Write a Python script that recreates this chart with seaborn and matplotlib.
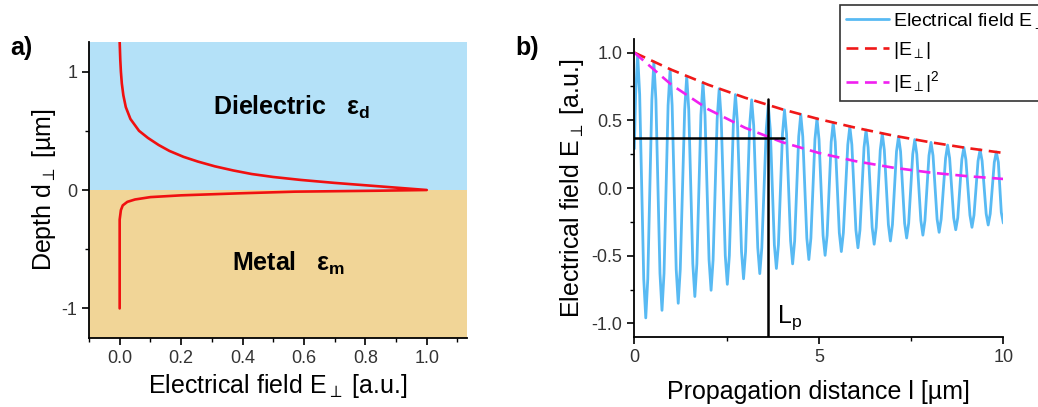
import numpy as np
import pandas as pd
import matplotlib
matplotlib.use("Agg")
import matplotlib.pyplot as plt
import seaborn as sns
from matplotlib.ticker import MultipleLocator, FormatStrFormatter

# panel a: field profile across the interface
depth_diel = [1.25, 1.1, 1.0, 0.9, 0.8, 0.7, 0.6, 0.5, 0.44, 0.38, 0.33, 0.28, 0.24,
              0.2, 0.165, 0.135, 0.11, 0.085, 0.06, 0.04, 0.02, 0.0]
field_diel = [0.0, 0.002, 0.004, 0.007, 0.012, 0.02, 0.035, 0.063, 0.092, 0.127, 0.162, 0.208, 0.255,
              0.31, 0.37, 0.43, 0.5, 0.59, 0.7, 0.8, 0.9, 1.0]
depth_metal = [-0.006, -0.014, -0.028, -0.045, -0.06, -0.08, -0.1, -0.13, -0.17, -0.25, -1.0]
field_metal = [0.84, 0.57, 0.39, 0.2, 0.1, 0.05, 0.025, 0.01, 0.004, 0.0, 0.0]

# panel b: oscillating field, extremes and shoulders
start_x, start_y = 0.0, 0.29
shoulder_dx = 0.055
peak_x = [0.09, 0.53, 0.97, 1.42, 1.86, 2.30, 2.74, 3.18, 3.63, 4.07, 4.51, 4.95,
          5.39, 5.84, 6.28, 6.72, 7.16, 7.60, 8.04, 8.49, 8.93, 9.37, 9.81]
peak_y = [0.988, 0.931, 0.877, 0.825, 0.778, 0.733, 0.690, 0.651, 0.612, 0.577, 0.544, 0.512,
          0.483, 0.454, 0.428, 0.403, 0.380, 0.358, 0.337, 0.317, 0.299, 0.282, 0.266]
peak_sh_y = [0.69, 0.65, 0.61, 0.58, 0.54, 0.51, 0.48, 0.46, 0.43, 0.40, 0.38, 0.36,
             0.34, 0.32, 0.30, 0.28, 0.27, 0.25, 0.24, 0.22, 0.21, 0.20, 0.19]
trough_x = [0.31, 0.75, 1.19, 1.64, 2.08, 2.52, 2.96, 3.40, 3.85, 4.29, 4.73, 5.17,
            5.61, 6.06, 6.50, 6.94, 7.38, 7.82, 8.26, 8.71, 9.15, 9.59, 10.0]
trough_y = [-0.959, -0.903, -0.851, -0.801, -0.755, -0.711, -0.670, -0.632, -0.594, -0.560, -0.528, -0.497,
            -0.469, -0.441, -0.415, -0.391, -0.369, -0.348, -0.327, -0.308, -0.290, -0.273, -0.259]
trough_sh_y = [-0.67, -0.63, -0.60, -0.56, -0.53, -0.50, -0.47, -0.44, -0.42, -0.39, -0.37, -0.35,
               -0.33, -0.31, -0.29, -0.27, -0.26, -0.24, -0.23, -0.22, -0.20, -0.19, -0.18]

env_x = [0, 1, 2, 3, 4, 5, 6, 7, 8, 9, 10]
env_abs = [1.0, 0.874, 0.763, 0.667, 0.582, 0.509, 0.445, 0.388, 0.339, 0.296, 0.259]
env_sq = [1.0, 0.764, 0.582, 0.445, 0.339, 0.259, 0.198, 0.151, 0.115, 0.088, 0.067]

lp = 3.63       # propagation length
e_inv = 0.37    # 1/e level

sns.set_theme(style="ticks")
plt.rcParams["font.family"] = ["Liberation Sans", "DejaVu Sans"]
plt.rcParams["mathtext.fontset"] = "custom"
plt.rcParams["mathtext.rm"] = "Liberation Sans"
plt.rcParams["mathtext.it"] = "Liberation Sans"
plt.rcParams["mathtext.bf"] = "Liberation Sans:bold"
plt.rcParams["axes.unicode_minus"] = False
plt.rcParams["text.color"] = "black"
plt.rcParams["axes.labelcolor"] = "black"

profile = pd.DataFrame({
    "field": field_diel + field_metal,
    "depth": depth_diel + depth_metal,
})

wave_x, wave_y = [start_x], [start_y]
for px, py, psh, tx, ty, tsh in zip(peak_x, peak_y, peak_sh_y, trough_x, trough_y, trough_sh_y):
    wave_x += [px - shoulder_dx, px, px + shoulder_dx, tx - shoulder_dx, tx]
    wave_y += [psh, py, psh, tsh, ty]
    if tx < 10:
        wave_x.append(tx + shoulder_dx)
        wave_y.append(tsh)
wave = pd.DataFrame({"x": wave_x, "y": wave_y})
env = pd.DataFrame({"x": env_x, "abs": env_abs, "sq": env_sq})

fig = plt.figure(figsize=(10.38, 4.07), dpi=100)
ax1 = fig.add_axes([0.0857, 0.1695, 0.3639, 0.7273])
ax2 = fig.add_axes([0.6111, 0.172, 0.3555, 0.732])

tick_col = "#333333"
for ax in (ax1, ax2):
    for s in ("top", "right"):
        ax.spines[s].set_visible(False)
    for s in ("left", "bottom"):
        ax.spines[s].set_color("black")
        ax.spines[s].set_linewidth(1.3)
    ax.tick_params(which="major", direction="out", length=5, width=1.2,
                   labelsize=13, labelcolor=tick_col, color="black")
    ax.tick_params(which="minor", direction="out", length=3, width=1.0, color="black")

# ---- panel a
ax1.axhspan(0, 1.25, color="#b4e1f8", lw=0, zorder=0)
ax1.axhspan(-1.25, 0, color="#f1d597", lw=0, zorder=0)
sns.lineplot(data=profile, x="field", y="depth", sort=False, estimator=None,
             color="#f01010", linewidth=1.9, ax=ax1)
ax1.set_xlim(-0.1, 1.13)
ax1.set_ylim(-1.25, 1.25)
ax1.xaxis.set_major_locator(MultipleLocator(0.2))
ax1.xaxis.set_minor_locator(MultipleLocator(0.1))
ax1.yaxis.set_major_locator(MultipleLocator(1))
ax1.yaxis.set_minor_locator(MultipleLocator(0.5))
ax1.xaxis.set_major_formatter(FormatStrFormatter("%.1f"))
ax1.set_xlabel(r"Electrical field E$_\perp$ [a.u.]", fontsize=18, labelpad=4)
ax1.set_ylabel(r"Depth d$_\perp$ [µm]", fontsize=18, labelpad=2)
ax1.text(0.56, 0.7, r"Dielectric   $\mathbf{ε_d}$", fontsize=18, fontweight="bold",
         ha="center", va="center")
ax1.text(0.55, -0.62, r"Metal   $\mathbf{ε_m}$", fontsize=18, fontweight="bold",
         ha="center", va="center")

# ---- panel b
sns.lineplot(data=wave, x="x", y="y", sort=False, estimator=None,
             color="#58baf3", linewidth=2.0, ax=ax2, label=r"Electrical field E$_\perp$")
sns.lineplot(data=env, x="x", y="abs", color="#f01818", linewidth=1.9,
             linestyle=(0, (4.5, 2.5)), ax=ax2, label=r"|E$_\perp$|")
sns.lineplot(data=env, x="x", y="sq", color="#f020f0", linewidth=1.9,
             linestyle=(0, (4.5, 2.5)), ax=ax2, label=r"|E$_\perp$|$^2$")
ax2.plot([0, 4.06], [e_inv, e_inv], color="black", lw=1.8, zorder=5)
ax2.plot([lp, lp], [-1.1, 0.66], color="black", lw=1.8, zorder=5)
ax2.text(lp + 0.25, -0.96, r"L$_\mathrm{p}$", fontsize=18, ha="left", va="center")
ax2.set_xlim(0, 10)
ax2.set_ylim(-1.1, 1.1)
ax2.xaxis.set_major_locator(MultipleLocator(5))
ax2.xaxis.set_minor_locator(MultipleLocator(2.5))
ax2.yaxis.set_major_locator(MultipleLocator(0.5))
ax2.yaxis.set_minor_locator(MultipleLocator(0.25))
ax2.yaxis.set_major_formatter(FormatStrFormatter("%.1f"))
ax2.set_xlabel("Propagation distance l [µm]", fontsize=18, labelpad=10)
ax2.set_ylabel(r"Electrical field E$_\perp$ [a.u.]", fontsize=18, labelpad=4)

leg = ax2.legend(loc="upper left", bbox_to_anchor=(840 / 1038, 1 - 5 / 407),
                 bbox_transform=fig.transFigure, fontsize=14, frameon=True,
                 fancybox=False, borderaxespad=0, handlelength=2.2,
                 borderpad=0.3, labelspacing=0.45, handletextpad=0.25)
leg.get_frame().set_edgecolor("black")
leg.get_frame().set_linewidth(1.2)

fig.text(10 / 1038, 1 - 48 / 407, "a)", fontsize=18, fontweight="bold", va="center")
fig.text(515 / 1038, 1 - 48 / 407, "b)", fontsize=18, fontweight="bold", va="center")

fig.savefig("out.png", dpi=100)
